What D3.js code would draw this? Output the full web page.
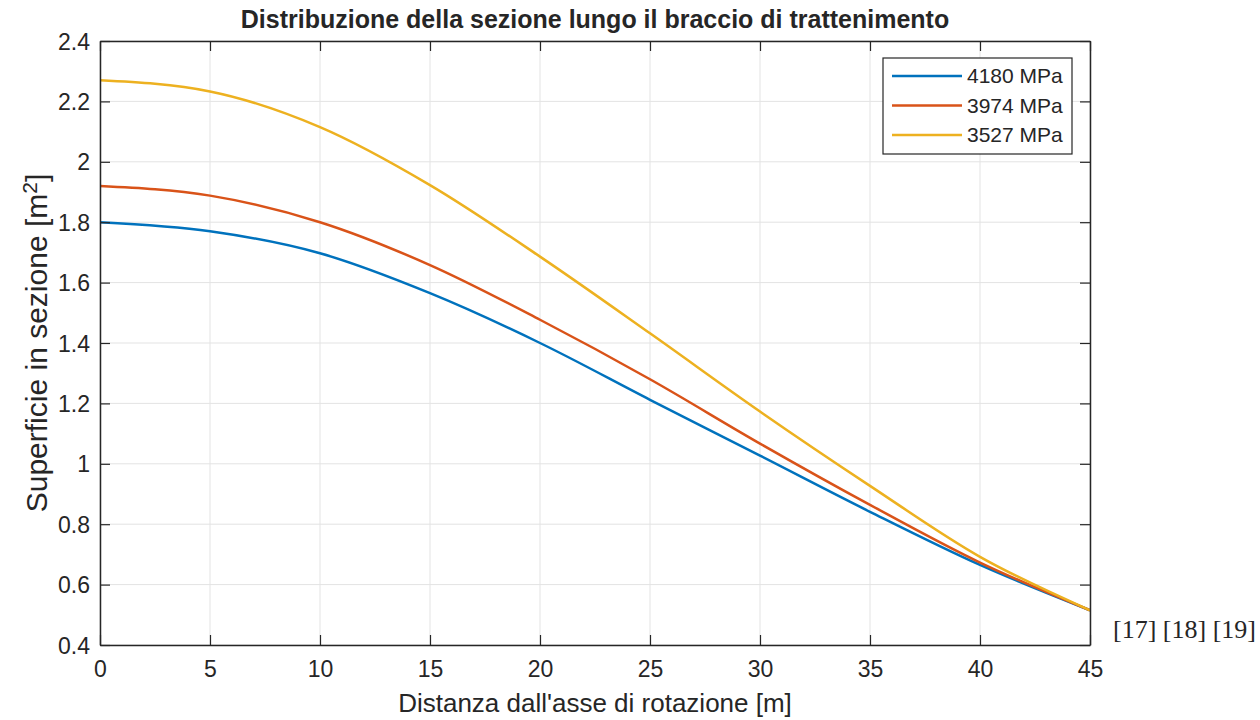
<!DOCTYPE html>
<html>
<head>
<meta charset="utf-8">
<script src="https://d3js.org/d3.v7.min.js"></script>
<style>
  body { margin: 0; background: #fff; }
  text { font-family: Arial, "Liberation Sans", sans-serif; fill: #262626; }
</style>
</head>
<body>
<div id="chart"></div>
<script>
//Data.
var distances = [0, 5, 10, 15, 20, 25, 30, 35, 40, 45];
var area4180 = [1.80, 1.77, 1.697, 1.565, 1.40, 1.212, 1.027, 0.841, 0.665, 0.515];
var area3974 = [1.92, 1.888, 1.80, 1.658, 1.477, 1.28, 1.067, 0.864, 0.673, 0.515];
var area3527 = [2.27, 2.233, 2.115, 1.923, 1.686, 1.432, 1.173, 0.927, 0.692, 0.515];
var seriesNames = ["4180 MPa", "3974 MPa", "3527 MPa"];
var xTicks = [0, 5, 10, 15, 20, 25, 30, 35, 40, 45];
var yTicks = [0.4, 0.6, 0.8, 1, 1.2, 1.4, 1.6, 1.8, 2, 2.2, 2.4];

var colors = ["#0072BD", "#D95319", "#EDB120"];
var allSeries = [area4180, area3974, area3527];

//SVG area
var svgWidth = 1260;
var svgHeight = 720;

var margin = { top: 41, right: 170, bottom: 75, left: 100 };
var width = svgWidth - margin.left - margin.right;
var height = svgHeight - margin.top - margin.bottom;

var svg = d3.select("#chart")
  .append("svg")
  .attr("width", svgWidth)
  .attr("height", svgHeight);

var chartGroup = svg.append("g")
  .attr("transform", `translate(${margin.left}, ${margin.top})`);

//scales
var xScale = d3.scaleLinear().domain([0, 45]).range([0, width]);
var yScale = d3.scaleLinear().domain([0.4, 2.4]).range([height, 0]);

//grid lines
chartGroup.append("g")
  .selectAll("line")
  .data(xTicks)
  .enter().append("line")
  .attr("x1", d => xScale(d)).attr("x2", d => xScale(d))
  .attr("y1", 0).attr("y2", height)
  .attr("stroke", "#e3e3e3").attr("stroke-width", 1);

chartGroup.append("g")
  .selectAll("line")
  .data(yTicks)
  .enter().append("line")
  .attr("x1", 0).attr("x2", width)
  .attr("y1", d => yScale(d)).attr("y2", d => yScale(d))
  .attr("stroke", "#e3e3e3").attr("stroke-width", 1);

//lines
var line = d3.line()
  .x((d, i) => xScale(distances[i]))
  .y(d => yScale(d))
  .curve(d3.curveMonotoneX);

chartGroup.selectAll(".series")
  .data(allSeries)
  .enter().append("path")
  .attr("class", "series")
  .attr("d", d => line(d))
  .attr("fill", "none")
  .attr("stroke", (d, i) => colors[i])
  .attr("stroke-width", 2.5);

//axes (ticks inside, on all four sides like matlab)
var bottomAxis = d3.axisBottom(xScale).tickValues(xTicks).tickSizeInner(-10).tickSizeOuter(0).tickPadding(20);
var leftAxis = d3.axisLeft(yScale).tickValues(yTicks).tickSizeInner(-10).tickSizeOuter(0).tickPadding(20)
  .tickFormat(d3.format("~g"));
var topAxis = d3.axisTop(xScale).tickValues(xTicks).tickSizeInner(-10).tickSizeOuter(0).tickFormat("");
var rightAxis = d3.axisRight(yScale).tickValues(yTicks).tickSizeInner(-10).tickSizeOuter(0).tickFormat("");

var gx = chartGroup.append("g")
  .attr("transform", `translate(0, ${height})`)
  .call(bottomAxis);
var gy = chartGroup.append("g").call(leftAxis);
var gt = chartGroup.append("g").call(topAxis);
var gr = chartGroup.append("g").attr("transform", `translate(${width}, 0)`).call(rightAxis);

[gx, gy, gt, gr].forEach(function(g) {
  g.selectAll("path").attr("stroke", "#262626").attr("stroke-width", 1.5);
  g.selectAll("line").attr("stroke", "#262626").attr("stroke-width", 1.2);
  g.selectAll("text").style("font-size", "23px").attr("fill", "#262626");
});
gx.selectAll("text").attr("y", 15).attr("dy", "0.75em");
gy.selectAll("text").attr("x", -10).attr("dy", "0.35em");

//title
svg.append("text")
  .attr("x", margin.left + width / 2)
  .attr("y", 28)
  .attr("text-anchor", "middle")
  .style("font-size", "25px")
  .style("font-weight", "bold")
  .attr("fill", "#000")
  .text("Distribuzione della sezione lungo il braccio di trattenimento");

//x label
svg.append("text")
  .attr("x", margin.left + width / 2)
  .attr("y", 712)
  .attr("text-anchor", "middle")
  .style("font-size", "26px")
  .text("Distanza dall'asse di rotazione [m]");

//y label with superscript
var yLabel = svg.append("text")
  .attr("transform", `translate(47, ${margin.top + height / 2}) rotate(-90)`)
  .attr("text-anchor", "middle")
  .style("font-size", "30px");
yLabel.append("tspan").text("Superficie in sezione [m");
yLabel.append("tspan").attr("dy", "-0.5em").style("font-size", "21px").text("2");
yLabel.append("tspan").attr("dy", "0.35em").text("]");

//legend
var legend = svg.append("g").attr("transform", "translate(883, 58)");
legend.append("rect")
  .attr("width", 189).attr("height", 96)
  .attr("fill", "#fff")
  .attr("stroke", "#262626").attr("stroke-width", 1.2);

var rows = legend.selectAll(".row")
  .data(seriesNames)
  .enter().append("g")
  .attr("class", "row")
  .attr("transform", (d, i) => `translate(0, ${18 + i * 29.5})`);
rows.append("line")
  .attr("x1", 9).attr("x2", 79)
  .attr("stroke", (d, i) => colors[i]).attr("stroke-width", 2.5);
rows.append("text")
  .attr("x", 84).attr("dy", "0.35em")
  .style("font-size", "21px")
  .text(d => d);

//reference note
svg.append("text")
  .attr("x", 1113)
  .attr("y", 638)
  .style("font-family", "'Liberation Serif', 'Times New Roman', serif")
  .style("font-size", "26px")
  .attr("fill", "#000")
  .text("[17] [18] [19]");
</script>
</body>
</html>
